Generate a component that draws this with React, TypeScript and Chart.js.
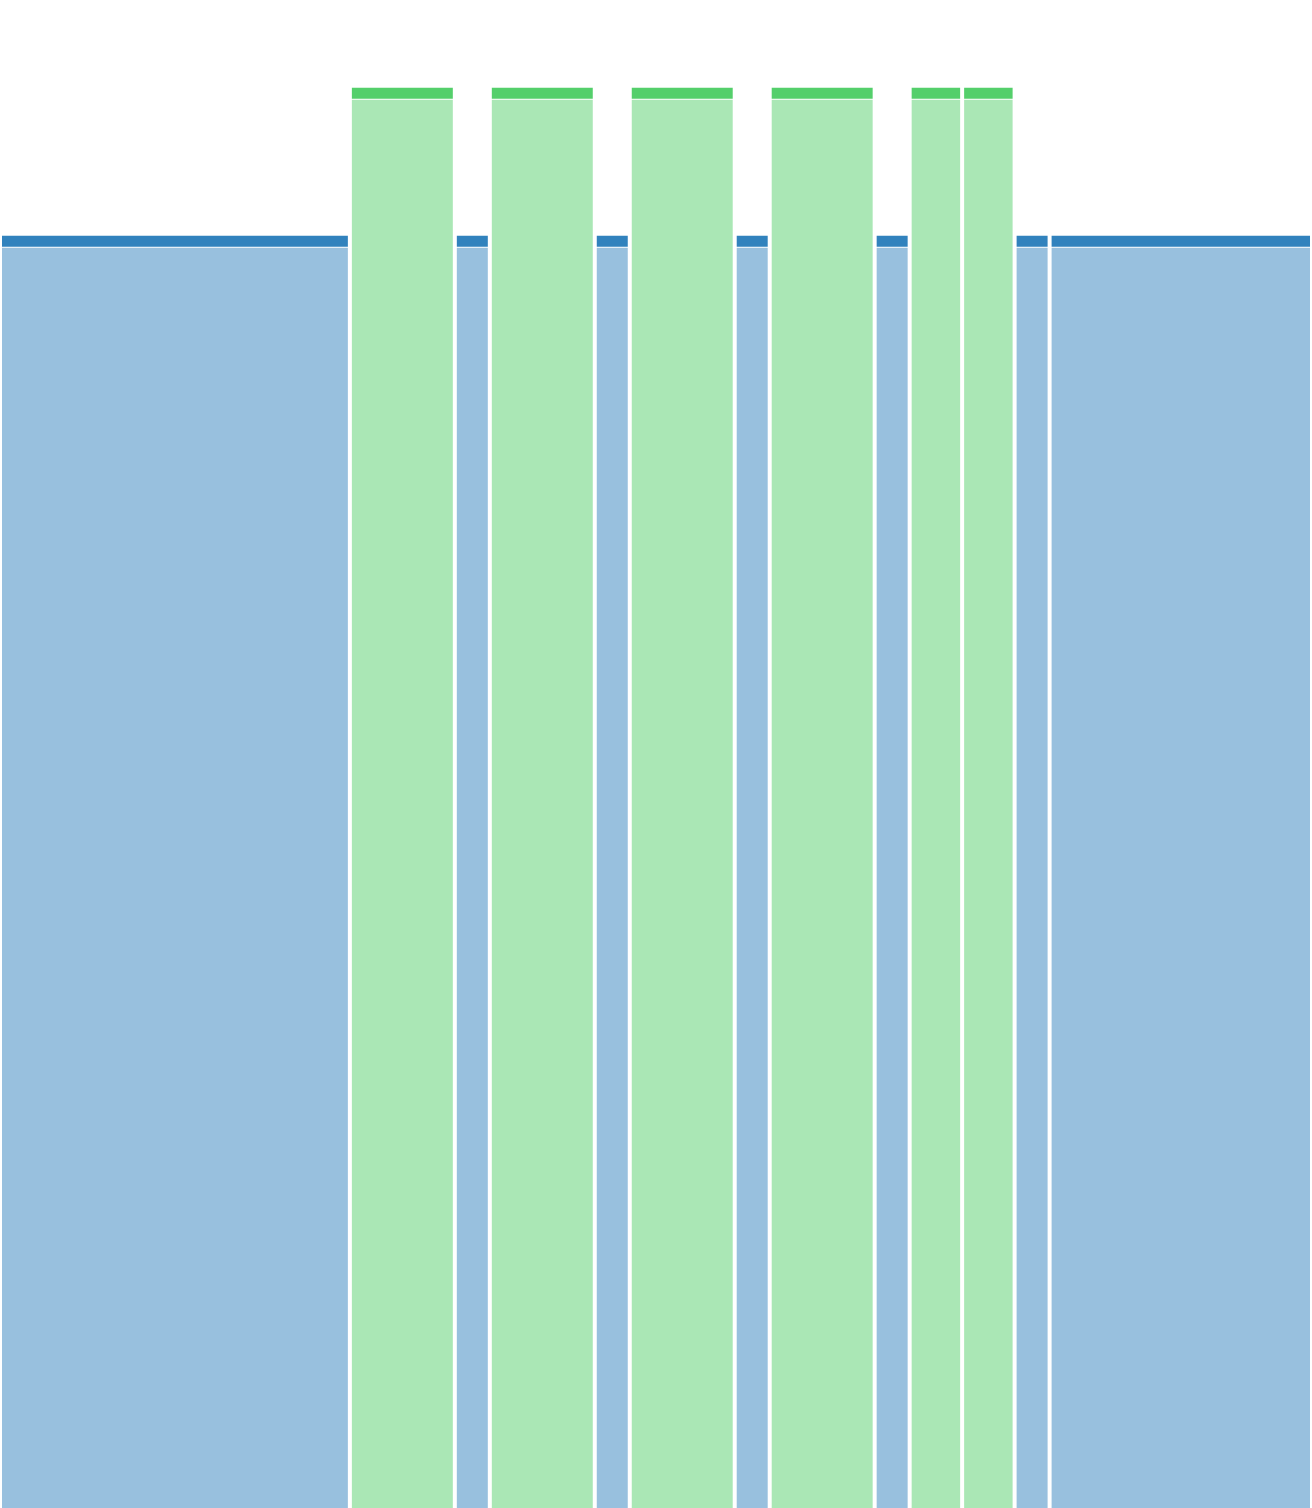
import { useEffect, useRef } from 'react'
import { Chart, registerables } from 'chart.js'

Chart.register(...registerables)

// timeline segments (minutes)
const segmentStart = [0, 10, 13, 14, 17, 18, 21, 22, 25, 26, 27.5, 29, 30]
const segmentEnd = [10, 13, 14, 17, 18, 21, 22, 25, 26, 27.5, 29, 30, 37.5]
const segmentState = ['idle', 'busy', 'idle', 'busy', 'idle', 'busy', 'idle', 'busy', 'idle', 'busy', 'busy', 'idle', 'idle']
const states = ['idle', 'busy']
const stateLevel: Record<string, number> = { idle: 43, busy: 48 }
const levelMax = 50.97

const capColor: Record<string, string> = { idle: '#3182bd', busy: '#54cf6b' }
const bodyColor: Record<string, string> = { idle: '#98c0de', busy: '#aae7b5' }

// depth of the dark cap and the white line under it, in axis units
const capDepth = 0.37
const lineDepth = 0.035

// flat runs for one state, split by nulls so each segment is its own area
function levelPoints(state: string, drop: number) {
  const pts: { x: number; y: number | null }[] = []
  segmentStart.forEach((start, i) => {
    if (segmentState[i] !== state) return
    const y = stateLevel[state] - drop
    pts.push({ x: start, y }, { x: segmentEnd[i], y }, { x: segmentEnd[i], y: null })
  })
  return pts
}

// white divider at every segment edge
function dividerPoints() {
  const edges = [...segmentStart, segmentEnd[segmentEnd.length - 1]]
  const pts: { x: number; y: number | null }[] = []
  edges.forEach(x => {
    pts.push({ x, y: 0 }, { x, y: levelMax }, { x, y: null })
  })
  return pts
}

export default function App() {
  const chartRef = useRef<HTMLCanvasElement>(null)
  const chartInstance = useRef<Chart | null>(null)

  useEffect(() => {
    if (!chartRef.current) return
    if (chartInstance.current) chartInstance.current.destroy()

    const area = (label: string, data: any, color: string, order: number) => ({
      label,
      data,
      fill: 'origin',
      backgroundColor: color,
      borderColor: 'rgba(0,0,0,0)',
      borderWidth: 0,
      pointRadius: 0,
      spanGaps: false,
      order,
    })

    const datasets: any[] = []
    states.forEach(s => {
      datasets.push(area(s + ' cap', levelPoints(s, 0), capColor[s], 4))
      datasets.push(area(s + ' line', levelPoints(s, capDepth), '#ffffff', 3))
      datasets.push(area(s + ' body', levelPoints(s, capDepth + lineDepth), bodyColor[s], 2))
    })
    datasets.push({
      label: 'dividers',
      data: dividerPoints(),
      fill: false,
      borderColor: '#ffffff',
      borderWidth: 4,
      pointRadius: 0,
      spanGaps: false,
      order: 1,
    })

    chartInstance.current = new Chart(chartRef.current, {
      type: 'line',
      data: { datasets },
      options: {
        animation: false,
        responsive: true,
        maintainAspectRatio: false,
        layout: { padding: 0 },
        scales: {
          x: { type: 'linear', display: false, min: 0, max: segmentEnd[segmentEnd.length - 1] },
          y: { display: false, min: 0, max: levelMax },
        },
        plugins: {
          legend: { display: false },
          tooltip: { enabled: false },
        },
      },
    } as any)

    return () => {
      if (chartInstance.current) {
        chartInstance.current.destroy()
        chartInstance.current = null
      }
    }
  }, [])

  return (
    <div style={{ position: 'fixed', left: 0, top: 0, width: 1312, height: 1508 }}>
      <canvas ref={chartRef} />
    </div>
  )
}
